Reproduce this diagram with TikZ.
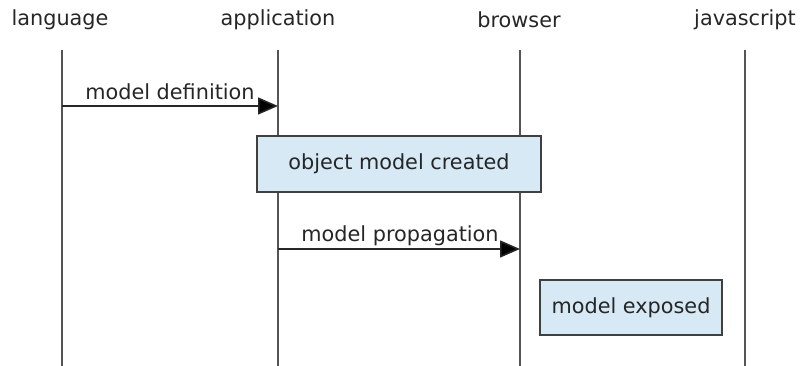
\documentclass[tikz,border=0pt]{standalone}
\usepackage{fontspec}
\setmainfont{DejaVu Sans}
\usetikzlibrary{arrows.meta}
\definecolor{boxfill}{HTML}{D6E9F5}
\definecolor{lifegray}{HTML}{555555}
\tikzset{
  title/.style={font=\fontsize{20.8}{24}\selectfont, text=black!85, inner sep=0pt, anchor=center},
  lifeline/.style={draw=lifegray, line width=2pt},
  msg/.style={draw=black!85, line width=1.6pt, -{Triangle[length=20pt,width=17pt,fill=black]}},
  msglabel/.style={font=\fontsize{20.8}{24}\selectfont, text=black!85, inner sep=0pt},
  actbox/.style={draw=black!75, line width=1.5pt, fill=boxfill, font=\fontsize{20.8}{24}\selectfont, text=black!85, inner sep=0pt},
}
\begin{document}
\begin{tikzpicture}[x=1pt,y=-1pt]
\useasboundingbox (0,0) rectangle (800,366);
% titles
\node[title] (tL) at (60,20) {language};
\node[title] (tA) at (278,20) {application};
\node[title] (tB) at (519,20) {browser};
\node[title] (tJ) at (745,20) {javascript};
% lifeline ends
\coordinate (L1) at (62,50);  \coordinate (L2) at (62,366);
\coordinate (A1) at (278,50); \coordinate (A2) at (278,366);
\coordinate (B1) at (520,50); \coordinate (B2) at (520,366);
\coordinate (J1) at (745,50); \coordinate (J2) at (745,366);
\draw[lifeline] (L1) -- (L2);
\draw[lifeline] (A1) -- (A2);
\draw[lifeline] (B1) -- (B2);
\draw[lifeline] (J1) -- (J2);
% message 1
\coordinate (m1s) at (62,106); \coordinate (m1e) at (278,106);
\draw[msg] (m1s) -- (m1e);
\node[msglabel] (m1l) at (170,92) {model definition};
% box 1
\node[actbox, minimum width=284pt, minimum height=56pt] (b1) at (399,164) {object model created};
% message 2
\coordinate (m2s) at (278,249); \coordinate (m2e) at (520,249);
\draw[msg] (m2s) -- (m2e);
\node[msglabel] (m2l) at (400,236) {model propagation};
% box 2
\node[actbox, minimum width=182pt, minimum height=55pt] (b2) at (631,307.5) {model exposed};
\end{tikzpicture}
\end{document}
